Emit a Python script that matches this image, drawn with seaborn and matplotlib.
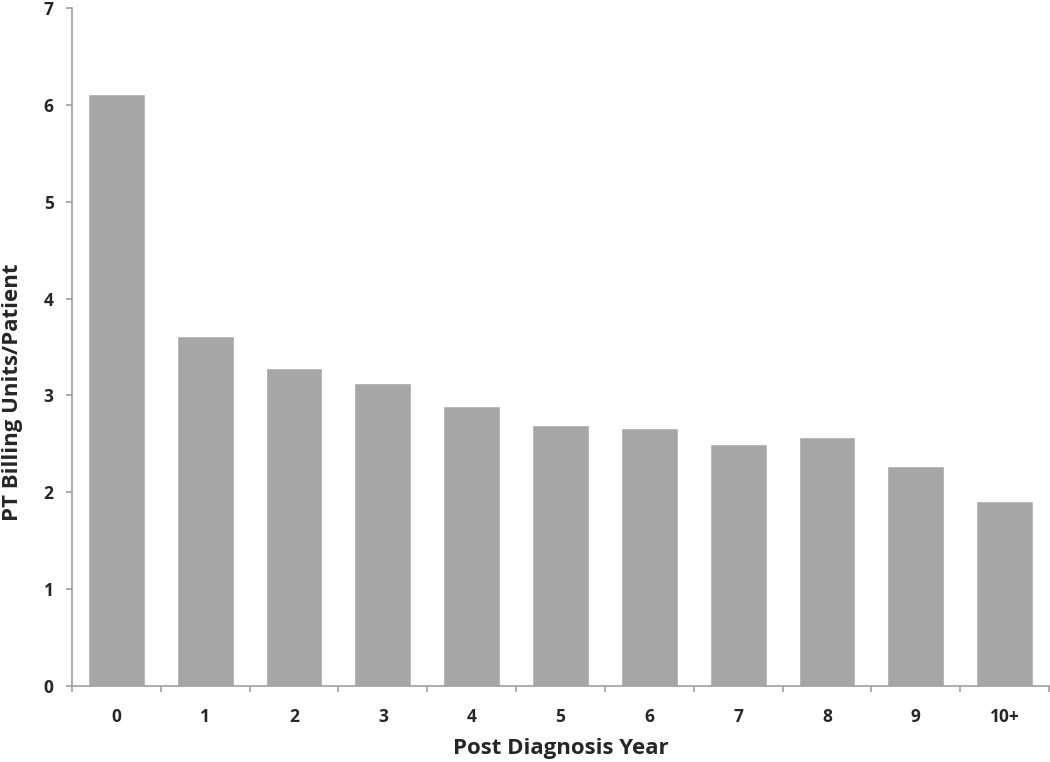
import numpy as np
import pandas as pd
import matplotlib
matplotlib.use("Agg")
import matplotlib.pyplot as plt
import seaborn as sns
from matplotlib.ticker import FixedLocator

years = ["0", "1", "2", "3", "4", "5", "6", "7", "8", "9", "10+"]
units_per_patient = [6.11, 3.61, 3.28, 3.13, 2.89, 2.70, 2.66, 2.50, 2.57, 2.27, 1.91]

df = pd.DataFrame({"year": years, "units": units_per_patient})

sns.set_style("white")
plt.rcParams['font.family'] = ['Open Sans', 'DejaVu Sans']

fig = plt.figure(figsize=(10.5, 7.62), dpi=100)
ax = fig.add_axes([0.0686, 0.0997, 0.9304, 0.8898])

sns.barplot(data=df, x="year", y="units", color="#a6a6a6", width=0.64,
            saturation=1, ax=ax)

axis_gray = "#a0a0a0"
ax.set_xlim(-0.5, len(years) - 0.5)
ax.set_ylim(0, 7)
ax.set_yticks(range(0, 8))
for side in ["top", "right"]:
    ax.spines[side].set_visible(False)
for side in ["left", "bottom"]:
    ax.spines[side].set_color(axis_gray)
    ax.spines[side].set_linewidth(1.2)

# category boundary tick marks on x, no marks at labels
ax.xaxis.set_minor_locator(FixedLocator(np.arange(-0.5, len(years), 1.0)))
ax.tick_params(axis="x", which="major", length=0, pad=16, labelsize=12.5)
ax.tick_params(axis="x", which="minor", length=4.3, width=1.2, color=axis_gray,
               direction="out", bottom=True)
ax.tick_params(axis="y", which="major", length=4.3, width=1.2, color=axis_gray,
               direction="out", pad=9, labelsize=12.5, left=True)

for lbl in ax.get_xticklabels() + ax.get_yticklabels():
    lbl.set_fontweight("bold")

ax.set_xlabel("Post Diagnosis Year", fontsize=16, fontweight="bold", va="center")
ax.set_ylabel("PT Billing Units/Patient", fontsize=16, fontweight="bold", va="center")
ax.xaxis.set_label_coords(0.5, -0.0914)
ax.yaxis.set_label_coords(-0.0614, 0.434)

fig.savefig("out.png", dpi=100)
